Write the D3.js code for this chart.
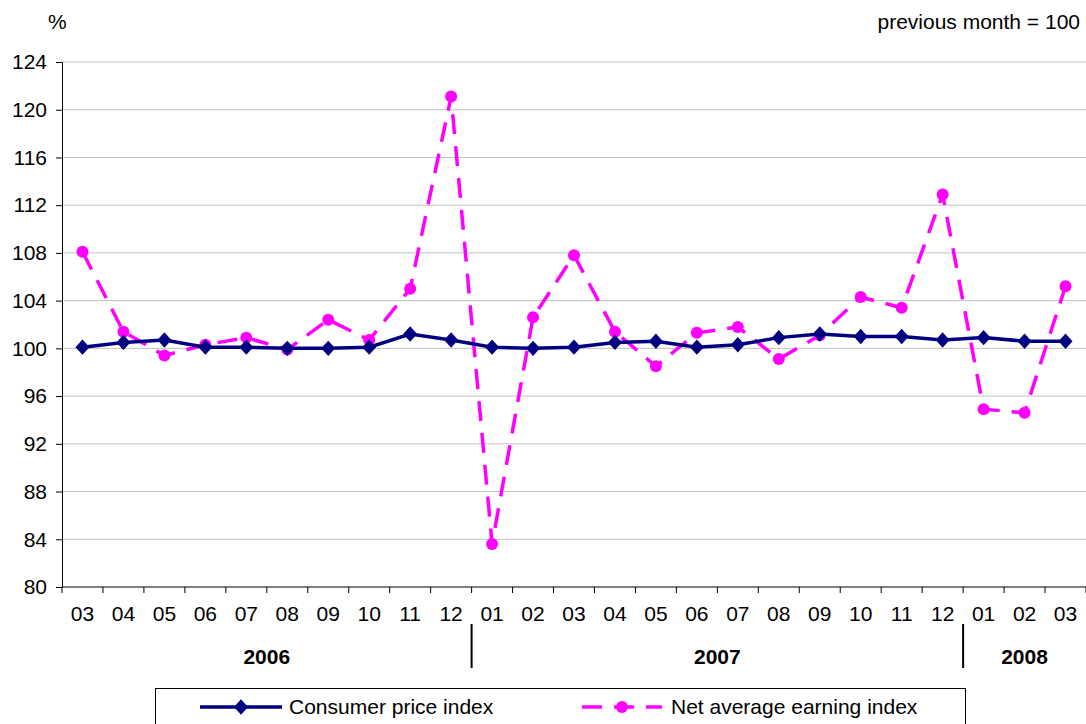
<!DOCTYPE html>
<html lang="en">
<head>
<meta charset="UTF-8">
<title>CPI and net average earning index</title>
<script src="https://d3js.org/d3.v7.min.js"></script>
<style>
  body { margin: 0; padding: 0; background: #fff; }
  svg text { font-family: 'Liberation Sans', Arial, sans-serif; fill: #000; }
</style>
</head>
<body>
<svg id="chart" width="1086" height="724"></svg>
<script>
// months 2006-03 .. 2008-03
const months = ["03","04","05","06","07","08","09","10","11","12",
                "01","02","03","04","05","06","07","08","09","10","11","12",
                "01","02","03"];
const years = [
  { label: "2006", from: 0, to: 10 },
  { label: "2007", from: 10, to: 22 },
  { label: "2008", from: 22, to: 25 }
];
const cpi = [100.1, 100.5, 100.7, 100.1, 100.1, 100.0, 100.0, 100.1, 101.2, 100.7,
             100.1, 100.0, 100.1, 100.5, 100.6, 100.1, 100.3, 100.9, 101.2, 101.0, 101.0, 100.7,
             100.9, 100.6, 100.6];
const earnings = [108.1, 101.4, 99.4, 100.3, 100.9, 99.9, 102.4, 100.7, 105.0, 121.1,
                  83.6, 102.6, 107.8, 101.4, 98.5, 101.3, 101.8, 99.1, 101.1, 104.3, 103.4, 112.9,
                  94.9, 94.6, 105.2];
const yTicks = [80, 84, 88, 92, 96, 100, 104, 108, 112, 116, 120, 124];

const svg = d3.select("#chart");
const plotLeft = 62, plotRight = 1086, plotTop = 62, plotBottom = 587;
const fs = "21px";

const idx = d3.range(months.length);
const x = d3.scaleBand().domain(idx).range([plotLeft, plotRight]);
const y = d3.scaleLinear().domain([80, 124]).range([plotBottom, plotTop]);

// gridlines
svg.append("g").selectAll("line")
  .data(yTicks.filter(d => d > 80))
  .enter().append("line")
  .attr("x1", plotLeft).attr("x2", plotRight)
  .attr("y1", d => y(d)).attr("y2", d => y(d))
  .attr("stroke", "#c0c0c0").attr("stroke-width", 1);

// y axis
const yAxis = svg.append("g")
  .attr("transform", "translate(" + plotLeft + ",0)")
  .call(d3.axisLeft(y).tickValues(yTicks).tickSize(6).tickPadding(9));
yAxis.attr("font-family", null).attr("font-size", null);
yAxis.select(".domain").attr("stroke", "#000");
yAxis.selectAll("text").style("font-size", fs);

// x axis (ticks on band edges)
const xAxis = svg.append("g")
  .attr("transform", "translate(0," + plotBottom + ")");
xAxis.append("line").attr("x1", plotLeft).attr("x2", plotRight)
  .attr("stroke", "#000");
xAxis.selectAll(".tk")
  .data(d3.range(months.length + 1))
  .enter().append("line")
  .attr("class", "tk")
  .attr("x1", d => plotLeft + d * x.bandwidth())
  .attr("x2", d => plotLeft + d * x.bandwidth())
  .attr("y1", 0).attr("y2", 6)
  .attr("stroke", "#000");
xAxis.selectAll(".ml")
  .data(idx)
  .enter().append("text")
  .attr("class", "ml")
  .attr("x", d => x(d) + x.bandwidth() / 2)
  .attr("y", 34)
  .attr("text-anchor", "middle")
  .style("font-size", fs)
  .text(d => months[d]);

// year separators and labels
svg.selectAll(".sep")
  .data(years.slice(1))
  .enter().append("line")
  .attr("x1", d => x(d.from)).attr("x2", d => x(d.from))
  .attr("y1", 624).attr("y2", 668)
  .attr("stroke", "#000").attr("stroke-width", 2);
svg.selectAll(".yr")
  .data(years)
  .enter().append("text")
  .attr("x", d => (x(d.from) + plotLeft + d.to * x.bandwidth()) / 2)
  .attr("y", 664)
  .attr("text-anchor", "middle")
  .style("font-size", fs)
  .style("font-weight", "bold")
  .text(d => d.label);

// titles
svg.append("text").attr("x", 48).attr("y", 29)
  .style("font-size", fs).text("%");
svg.append("text").attr("x", 1080).attr("y", 29)
  .attr("text-anchor", "end")
  .style("font-size", fs).text("previous month = 100");

const cx = i => x(i) + x.bandwidth() / 2;
const diamond = d3.symbol().type(d3.symbolDiamond2).size(125);

// earnings series
const pink = "#ff00ff", navy = "#000080";
svg.append("path")
  .datum(earnings)
  .attr("fill", "none")
  .attr("stroke", pink)
  .attr("stroke-width", 3.5)
  .attr("stroke-dasharray", "20,12")
  .attr("d", d3.line().x((d, i) => cx(i)).y(d => y(d)));
svg.append("g").selectAll("circle")
  .data(earnings)
  .enter().append("circle")
  .attr("cx", (d, i) => cx(i))
  .attr("cy", d => y(d))
  .attr("r", 6)
  .attr("fill", pink);

// cpi series
svg.append("path")
  .datum(cpi)
  .attr("fill", "none")
  .attr("stroke", navy)
  .attr("stroke-width", 3.5)
  .attr("d", d3.line().x((d, i) => cx(i)).y(d => y(d)));
svg.append("g").selectAll("path.dm")
  .data(cpi)
  .enter().append("path")
  .attr("class", "dm")
  .attr("transform", (d, i) => "translate(" + cx(i) + "," + y(d) + ") scale(1,1.1)")
  .attr("d", diamond)
  .attr("fill", navy);

// legend
const lg = svg.append("g");
lg.append("rect").attr("x", 155.5).attr("y", 688.5)
  .attr("width", 810).attr("height", 60)
  .attr("fill", "#fff").attr("stroke", "#000");
lg.append("line").attr("x1", 200).attr("x2", 282).attr("y1", 707).attr("y2", 707)
  .attr("stroke", navy).attr("stroke-width", 3.5);
lg.append("path").attr("d", diamond)
  .attr("transform", "translate(241,707) scale(1,1.1)").attr("fill", navy);
lg.append("text").attr("x", 289).attr("y", 714)
  .style("font-size", fs).text("Consumer price index");
lg.append("line").attr("x1", 582).attr("x2", 662).attr("y1", 707).attr("y2", 707)
  .attr("stroke", pink).attr("stroke-width", 3.5).attr("stroke-dasharray", "20,12");
lg.append("circle").attr("cx", 622).attr("cy", 707).attr("r", 6).attr("fill", pink);
lg.append("text").attr("x", 671).attr("y", 714)
  .style("font-size", fs).text("Net average earning index");
</script>
</body>
</html>
